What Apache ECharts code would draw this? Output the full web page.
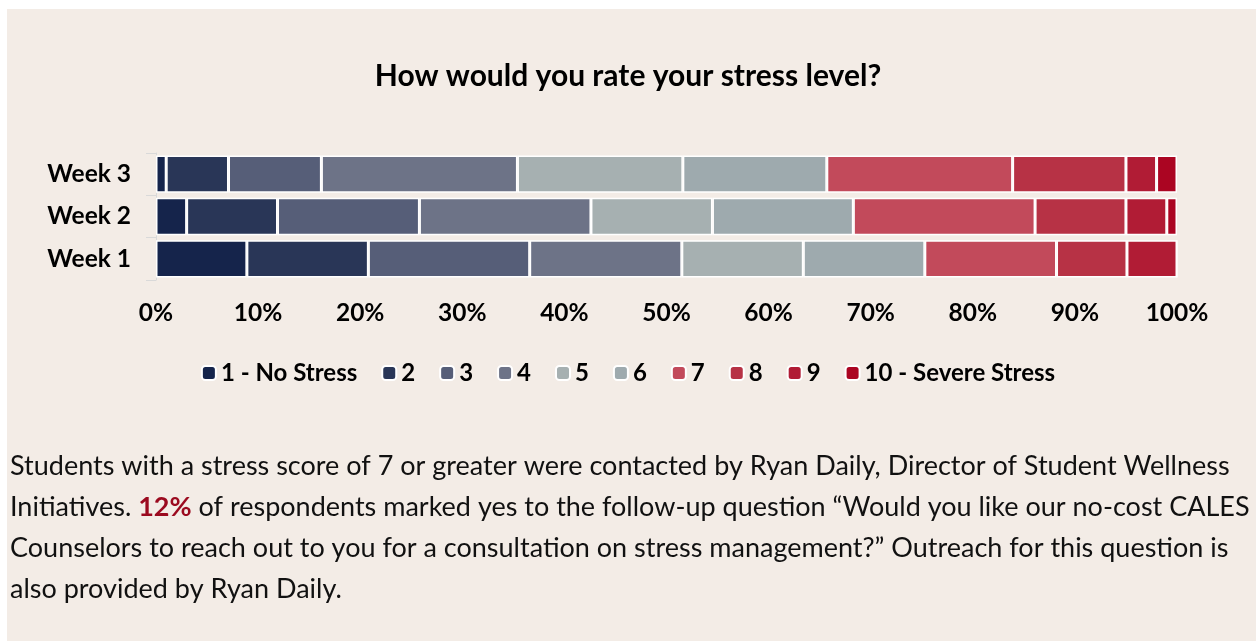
<!DOCTYPE html>
<html>
<head>
<meta charset="utf-8">
<script src="https://cdn.jsdelivr.net/npm/echarts@6/dist/echarts.min.js"></script>
<style>
  html, body { margin: 0; padding: 0; background: #ffffff; }
  #chart { width: 1256px; height: 641px; }
</style>
</head>
<body>
<div id="chart"></div>
<script>
// Share of responses (%) per stress score, by survey week
const weeks = ['Week 1', 'Week 2', 'Week 3'];
const scoreNames = ['1 - No Stress', '2', '3', '4', '5', '6', '7', '8', '9', '10 - Severe Stress'];
const score1 = [8.9, 3.0, 1.0];
const score2 = [11.9, 8.9, 6.1];
const score3 = [15.8, 13.9, 9.1];
const score4 = [14.9, 16.8, 19.2];
const score5 = [11.9, 11.9, 16.2];
const score6 = [11.9, 13.8, 14.1];
const score7 = [12.9, 17.8, 18.2];
const score8 = [6.9, 8.9, 11.1];
const score9 = [4.9, 4.0, 3.0];
const score10 = [0, 1.0, 2.0];
const scoreValues = [score1, score2, score3, score4, score5, score6, score7, score8, score9, score10];
const scoreColors = ['#15244b', '#293657', '#565e78', '#6d7387', '#a6b0b1',
                     '#9eaaae', '#c24a5b', '#b73245', '#b11c35', '#ab0522'];
const xTicks = [0, 10, 20, 30, 40, 50, 60, 70, 80, 90, 100];

const FONT = 'Lato';

const noteLines = [
  [{ t: 'Students with a stress score of 7 or greater were contacted by Ryan Daily, Director of Student Wellness' }],
  [{ t: 'Initiatives. ' }, { t: '12%', s: 'hl' }, { t: ' of respondents marked yes to the follow-up question \u201cWould you like our no-cost CALES' }],
  [{ t: 'Counselors to reach out to you for a consultation on stress management?\u201d Outreach for this question is' }],
  [{ t: 'also provided by Ryan Daily.' }]
];

const chart = echarts.init(document.getElementById('chart'), null, { renderer: 'canvas' });

const series = scoreNames.map((name, i) => ({
  name: name,
  type: 'bar',
  stack: 'total',
  barCategoryGap: '12%',
  data: scoreValues[i],
  itemStyle: { color: scoreColors[i], borderColor: '#ffffff', borderWidth: 1.5 },
  emphasis: { disabled: true }
}));

const noteGraphics = noteLines.map((parts, li) => ({
  type: 'text',
  left: 10,
  top: 453 + li * 41,
  z: 10,
  style: {
    text: parts.map(p => p.s ? '{' + p.s + '|' + p.t + '}' : p.t).join(''),
    font: '27px ' + FONT,
    fill: '#111111',
    rich: {
      hl: { fontFamily: FONT, fontSize: 27, fontWeight: 'bold', fill: '#9b0a1f', color: '#9b0a1f' }
    }
  }
}));

chart.setOption({
  backgroundColor: '#ffffff',
  animation: false,
  title: {
    text: 'How would you rate your stress level?',
    left: 'center',
    top: 56,
    textStyle: { fontFamily: FONT, fontSize: 30, fontWeight: 'bold', color: '#000000' }
  },
  legend: {
    data: scoreNames,
    top: 356,
    left: 'center',
    itemWidth: 14,
    itemHeight: 14,
    itemGap: 24,
    itemTextGap: 7,
    itemStyle: { borderColor: '#ffffff', borderWidth: 2 },
    textStyle: { fontFamily: FONT, fontSize: 24, fontWeight: 'bold', color: '#000000', padding: [0, 0, 0, 0] },
    selectedMode: false
  },
  grid: { left: 156, right: 79, top: 153, bottom: 361, containLabel: false },
  xAxis: {
    type: 'value',
    min: 0,
    max: 100,
    interval: 10,
    splitLine: { show: false },
    axisLine: { show: false },
    axisTick: { show: false },
    axisLabel: {
      margin: 21,
      formatter: v => xTicks.includes(v) ? v + '%' : '',
      fontFamily: FONT, fontSize: 24.5, fontWeight: 'bold', color: '#000000'
    }
  },
  yAxis: {
    type: 'category',
    data: weeks,
    axisLine: { show: true, lineStyle: { color: '#d9d9d9', width: 1 } },
    axisTick: { show: true, length: 10, lineStyle: { color: '#d9d9d9' } },
    axisLabel: { margin: 25, fontFamily: FONT, fontSize: 24.5, fontWeight: 'bold', color: '#000000' }
  },
  graphic: [
    {
      type: 'rect',
      left: 7, top: 9, z: -10, silent: true,
      shape: { width: 1249, height: 632 },
      style: { fill: '#f3ece6' }
    }
  ].concat(noteGraphics),
  series: series
});
</script>
</body>
</html>
